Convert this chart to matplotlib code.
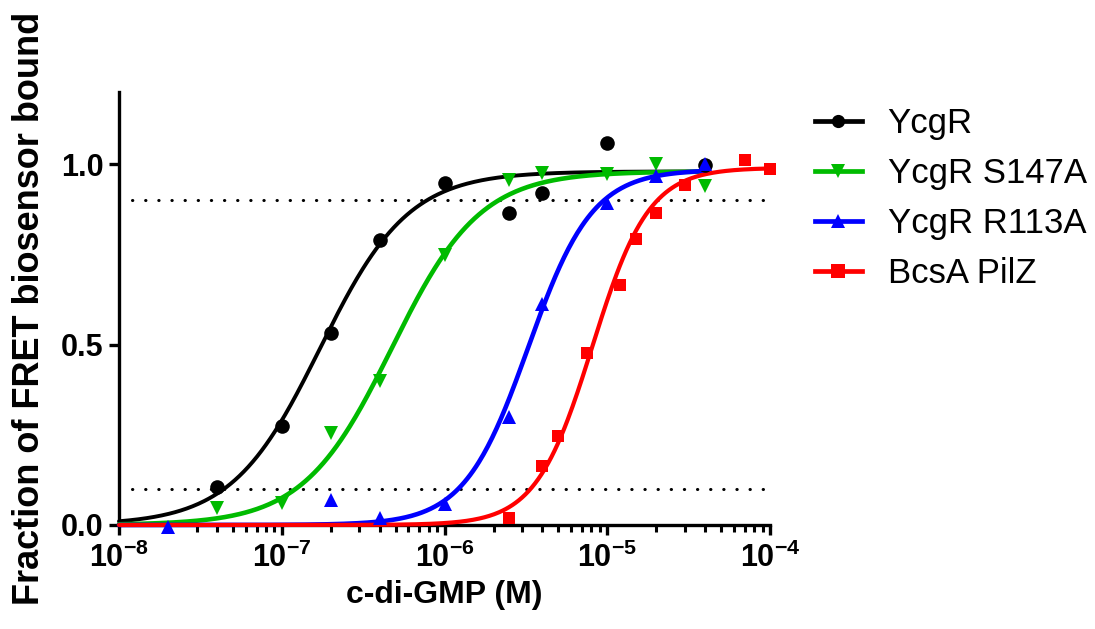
import numpy as np
import matplotlib
matplotlib.use('Agg')
import matplotlib.pyplot as plt
from matplotlib.lines import Line2D

plt.rcParams['font.family'] = ['Liberation Sans', 'DejaVu Sans']
plt.rcParams['mathtext.fontset'] = 'custom'
plt.rcParams['mathtext.rm'] = 'Liberation Sans'
plt.rcParams['mathtext.bf'] = 'Liberation Sans:bold'

# measured points (c-di-GMP in M, fraction bound)
ycgr_x = [4e-8, 1e-7, 2e-7, 4e-7, 1e-6, 2.5e-6, 4e-6, 1e-5, 4e-5]
ycgr_y = [0.104, 0.275, 0.532, 0.79, 0.948, 0.866, 0.92, 1.06, 0.998]

s147a_x = [4e-8, 1e-7, 2e-7, 4e-7, 1e-6, 2.5e-6, 4e-6, 1e-5, 2e-5, 4e-5]
s147a_y = [0.048, 0.062, 0.255, 0.398, 0.747, 0.957, 0.975, 0.972, 1.0, 0.94]

r113a_x = [2e-8, 2e-7, 4e-7, 1e-6, 2.5e-6, 4e-6, 1e-5, 2e-5, 4e-5]
r113a_y = [-0.005, 0.07, 0.02, 0.057, 0.30, 0.613, 0.893, 0.968, 1.0]

pilz_x = [2.5e-6, 4e-6, 5e-6, 7.5e-6, 1.2e-5, 1.5e-5, 2e-5, 3e-5, 7e-5, 1e-4]
pilz_y = [0.018, 0.163, 0.246, 0.477, 0.666, 0.793, 0.866, 0.943, 1.012, 0.988]

# Hill fit parameters: EC50, hill slope, top, end of fitted range
fit_ycgr = (1.72e-7, 1.6, 0.98, 4e-5)
fit_s147a = (4.74e-7, 1.6, 0.98, 4e-5)
fit_r113a = (3.27e-6, 2.2, 0.985, 4e-5)
fit_pilz = (8.1e-6, 2.5, 0.99, 1e-4)

labels = ['YcgR', 'YcgR S147A', 'YcgR R113A', 'BcsA PilZ']
colors = ['#000000', '#00bb00', '#0000ff', '#ff0000']
markers = ['o', 'v', '^', 's']


def hill(x, ec50, n, top):
    return top * x ** n / (x ** n + ec50 ** n)


fig = plt.figure(figsize=(10.95, 6.29), dpi=100)
ax = fig.add_axes([0.1087, 0.1654, 0.5945, 0.6883])
ax.set_xscale('log')

series = [(ycgr_x, ycgr_y, fit_ycgr), (s147a_x, s147a_y, fit_s147a),
          (r113a_x, r113a_y, fit_r113a), (pilz_x, pilz_y, fit_pilz)]
msizes = [10.5, 10.5, 10.5, 9.3]
lwidths = [2.8, 3.3, 3.3, 3.0]

# dotted 10% / 90% guide lines
for lvl in [0.1, 0.9]:
    ax.plot([1.2e-8, 1e-4], [lvl, lvl], color='black', lw=2.2,
            linestyle=(0, (0.1, 4.2)), dash_capstyle='round', zorder=1)

handles = []
for i, (xs, ys, (ec50, n, top, xend)) in enumerate(series):
    xx = np.logspace(-8, np.log10(xend), 400)
    ax.plot(xx, hill(xx, ec50, n, top), color=colors[i], lw=lwidths[i],
            zorder=2 + i, clip_on=False, solid_capstyle='round')
    ax.plot(xs, ys, linestyle='none', marker=markers[i], color=colors[i],
            ms=msizes[i], markeredgewidth=0, zorder=6 + i, clip_on=False)
    handles.append(Line2D([], [], color=colors[i], lw=3.4, marker=markers[i],
                          ms=9.5, markeredgewidth=0))

ax.set_xlim(1e-8, 1e-4)
ax.set_ylim(0, 1.2)

decades = [1e-8, 1e-7, 1e-6, 1e-5, 1e-4]
dec_labels = [r'$\mathbf{10^{-8}}$', r'$\mathbf{10^{-7}}$', r'$\mathbf{10^{-6}}$',
              r'$\mathbf{10^{-5}}$', r'$\mathbf{10^{-4}}$']
ax.set_xticks(decades)
ax.set_xticklabels(dec_labels, fontsize=22)
minor = [m * d for d in decades[:-1] for m in range(2, 10)]
ax.set_xticks(minor, minor=True)
ax.set_xticklabels([], minor=True)

ax.set_yticks([0.0, 0.5, 1.0])
ax.set_yticklabels(['0.0', '0.5', '1.0'], fontsize=22, fontweight='bold')

for side in ['top', 'right']:
    ax.spines[side].set_visible(False)
for side in ['left', 'bottom']:
    ax.spines[side].set_linewidth(2.4)
ax.tick_params(axis='both', which='major', direction='out', length=7, width=2.4, pad=4)
ax.tick_params(axis='x', which='minor', direction='out', length=5, width=2.2)
ax.tick_params(axis='x', which='major', pad=6)

ax.set_xlabel('c-di-GMP (M)', fontsize=23, fontweight='bold', labelpad=4)
ax.set_ylabel('Fraction of FRET biosensor bound', fontsize=26, fontweight='bold', labelpad=10)

fig.legend(handles, labels, loc='upper left', bbox_to_anchor=(0.744, 0.83),
           frameon=False, fontsize=25, handlelength=1.35, handletextpad=0.75,
           labelspacing=0.49, borderpad=0, borderaxespad=0)

fig.savefig('out.png', dpi=100)
